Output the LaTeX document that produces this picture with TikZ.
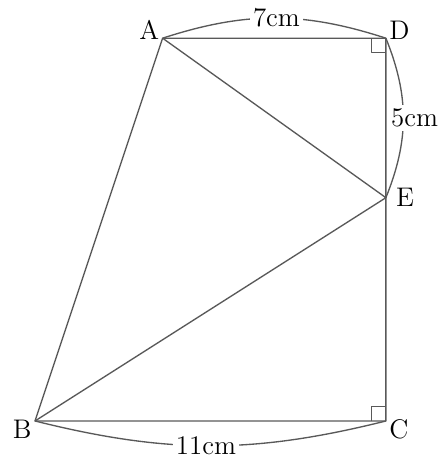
\documentclass[tikz,border=0pt]{standalone}
\usepackage{amsmath, amssymb}
\usepackage{xcolor}
\usepackage{tikz}
\usetikzlibrary{calc, positioning}

\begin{document}
\begin{tikzpicture}[scale=0.5, line join=round, font=\large,
    canh/.style={black!65, line width=0.6pt},
    cung/.style={black!65, line width=0.6pt},
    nhan/.style={fill=white, text=black, inner sep=1.5pt}]
    \useasboundingbox (-1.097,-1.129) rectangle (12.82,13.197);

    % 1. Các đỉnh của hình
    \coordinate (B) at (0,0);
    \coordinate (C) at (11,0);
    \coordinate (D) at (11,12);
    \coordinate (A) at (4,12);
    \coordinate (E) at (11,7);

    % 2. Các cạnh và đường chéo
    \draw[canh] (A) -- (D) -- (C) -- (B) -- cycle;
    \draw[canh] (A) -- (E) -- (B);

    % 3. Ký hiệu góc vuông tại D và C
    \draw[canh] ($(D)+(-0.45,0)$) -- ($(D)+(-0.45,-0.45)$) -- ($(D)+(0,-0.45)$);
    \draw[canh] ($(C)+(-0.45,0)$) -- ($(C)+(-0.45,0.45)$) -- ($(C)+(0,0.45)$);

    % 4. Các cung ghi độ dài
    \draw[cung] (A) to[bend left=18] node[nhan, xshift=1pt] (lAD) {7cm} (D);
    \draw[cung] (D) to[bend left=22] node[nhan, xshift=5pt] (lDE) {5cm} (E);
    \draw[cung] (C) to[bend left=14] node[nhan, xshift=-2pt] (lBC) {11cm} (B);

    % 5. Tên các đỉnh
    \node[above left=-4pt and -2pt of A] (nA) {A};
    \node[above right=-4pt and -2pt of D] (nD) {D};
    \node[right=1pt of E] (nE) {E};
    \node[below left=-4pt and -2pt of B] (nB) {B};
    \node[below right=-4pt and -2pt of C] (nC) {C};

\end{tikzpicture}
\end{document}
